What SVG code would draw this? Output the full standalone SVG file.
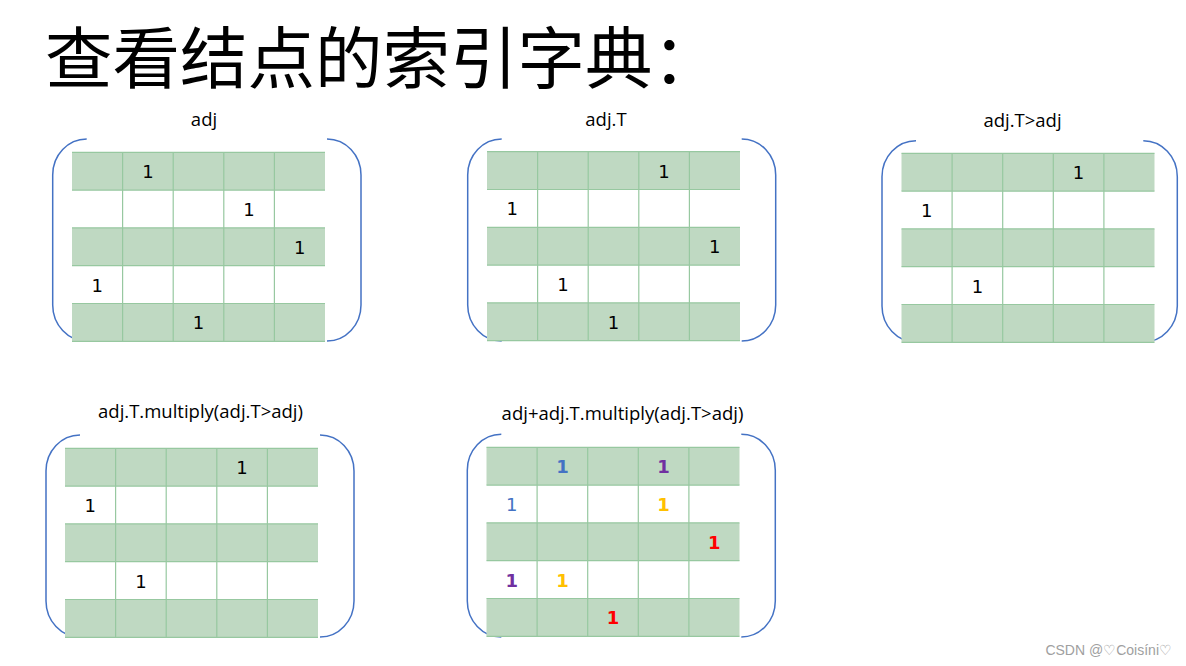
<svg xmlns="http://www.w3.org/2000/svg" width="1186" height="666" viewBox="0 0 1186 666">
<style>
.title{font-family:"Noto Sans CJK SC","Noto Sans CJK JP",sans-serif;font-size:67.5px;fill:#000}
.lbl{font-family:"Open Sans","Liberation Sans",sans-serif;font-size:18.5px;fill:#000;text-anchor:middle}
.n{font-family:"DejaVu Sans",sans-serif;font-size:18px;fill:#000;text-anchor:middle}
.b{font-weight:bold}
.blue{fill:#4472C4}.purple{fill:#7030A0}.orange{fill:#FFC000}.red{fill:#FF0000}
.br{fill:none;stroke:#4472C4;stroke-width:1.5}
.row{fill:#BFD9C2}
.gl{stroke:#97C8A0;stroke-width:1.2;fill:none}
.wm{font-family:"Liberation Sans",Arial,sans-serif;font-size:14px;fill:#A0A0A0;text-anchor:end}
</style>
<defs>
<g id="grid">
<rect class="row" x="0" y="0" width="253" height="37.8"/>
<rect class="row" x="0" y="75.6" width="253" height="37.8"/>
<rect class="row" x="0" y="151.2" width="253" height="37.8"/>
<path class="gl" d="M0 0H253M0 37.8H253M0 75.6H253M0 113.4H253M0 151.2H253M0 189H253M50.6 0V189M101.2 0V189M151.8 0V189M202.4 0V189"/>
</g>
</defs>
<rect width="1186" height="666" fill="#fff"/>
<text class="title" x="45" y="83">查看结点的索引字典：</text>

<g id="m-adj">
<text class="lbl" x="204" y="126">adj</text>
<path class="br" d="M86.7 139A34 36 0 0 0 52.7 175V305A34 36 0 0 0 86.7 341"/>
<path class="br" d="M327 139A34 36 0 0 1 361 175V305A34 36 0 0 1 327 341"/>
<use href="#grid" x="72" y="152.3"/>
<text class="n" x="147.9" y="178.2">1</text>
<text class="n" x="249.1" y="216">1</text>
<text class="n" x="299.7" y="253.8">1</text>
<text class="n" x="97.3" y="291.6">1</text>
<text class="n" x="198.5" y="329.4">1</text>
</g>

<g id="m-adjT">
<text class="lbl" x="606" y="126">adj.T</text>
<path class="br" d="M501.7 139A34 36 0 0 0 467.7 175V305A34 36 0 0 0 501.7 341"/>
<path class="br" d="M741.7 139A34 36 0 0 1 775.7 175V305A34 36 0 0 1 741.7 341"/>
<use href="#grid" x="487" y="151.7"/>
<text class="n" x="664.1" y="177.6">1</text>
<text class="n" x="512.3" y="215.4">1</text>
<text class="n" x="714.7" y="253.2">1</text>
<text class="n" x="562.9" y="291">1</text>
<text class="n" x="613.5" y="328.8">1</text>
</g>

<g id="m-adjT-gt-adj">
<text class="lbl" x="1022.5" y="126.5">adj.T&gt;adj</text>
<path class="br" d="M916 140.7A34 36 0 0 0 882 176.7V306A34 36 0 0 0 916 342"/>
<path class="br" d="M1143.3 140.7A34 36 0 0 1 1177.3 176.7V306A34 36 0 0 1 1143.3 342"/>
<use href="#grid" x="901.5" y="153.3"/>
<text class="n" x="1078.6" y="179.2">1</text>
<text class="n" x="926.8" y="217">1</text>
<text class="n" x="977.4" y="292.6">1</text>
</g>

<g id="m-multiply">
<text class="lbl" x="200.5" y="418.3">adj.T.multiply(adj.T&gt;adj)</text>
<path class="br" d="M80 435A34 36 0 0 0 46 471V601A34 36 0 0 0 80 637"/>
<path class="br" d="M320 435A34 36 0 0 1 354 471V601A34 36 0 0 1 320 637"/>
<use href="#grid" x="65" y="448.3"/>
<text class="n" x="242.1" y="474.2">1</text>
<text class="n" x="90.3" y="512">1</text>
<text class="n" x="140.9" y="587.6">1</text>
</g>

<g id="m-sum">
<text class="lbl" x="622.5" y="420">adj+adj.T.multiply(adj.T&gt;adj)</text>
<path class="br" d="M501.3 434.3A34 36 0 0 0 467.3 470.3V601A34 36 0 0 0 501.3 637"/>
<path class="br" d="M741.3 434.3A34 36 0 0 1 775.3 470.3V601A34 36 0 0 1 741.3 637"/>
<use href="#grid" x="486.5" y="447.3"/>
<text class="n b blue" x="562.4" y="473.2">1</text>
<text class="n b purple" x="663.6" y="473.2">1</text>
<text class="n blue" x="511.8" y="511">1</text>
<text class="n b orange" x="663.6" y="511">1</text>
<text class="n b red" x="714.2" y="548.8">1</text>
<text class="n b purple" x="511.8" y="586.6">1</text>
<text class="n b orange" x="562.4" y="586.6">1</text>
<text class="n b red" x="613" y="624.4">1</text>
</g>

<text class="wm" x="1172" y="655">CSDN @♡Coisíni♡</text>
</svg>
